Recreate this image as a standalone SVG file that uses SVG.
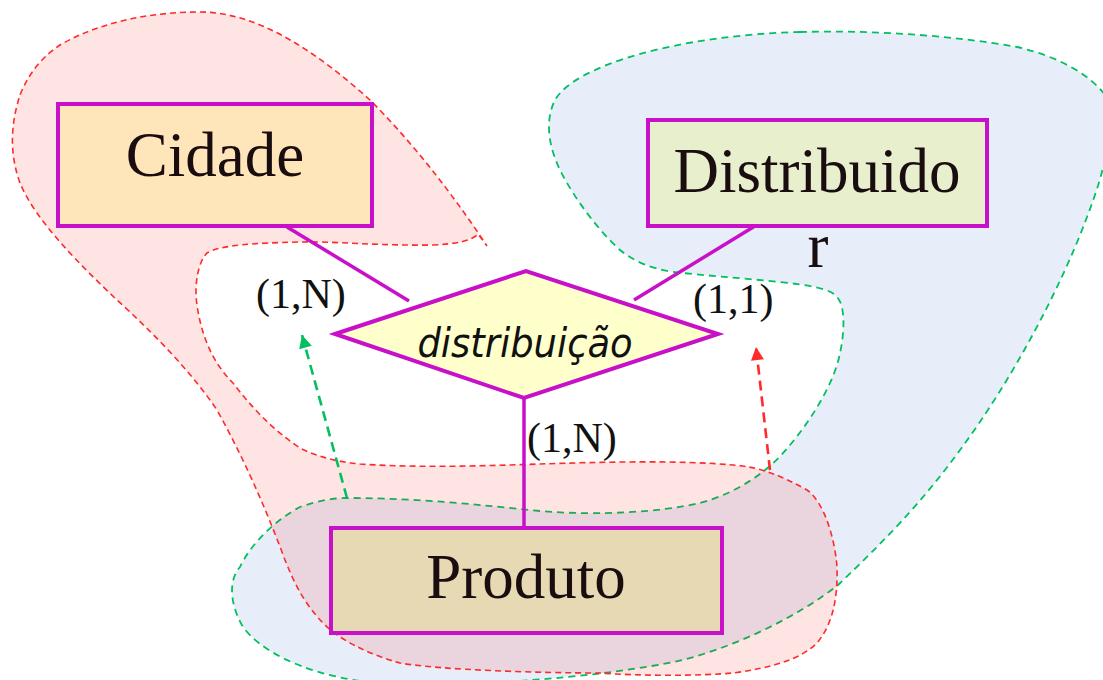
<svg xmlns="http://www.w3.org/2000/svg" width="1103" height="680" viewBox="0 0 1103 680">
  <defs>
    <style>
      .blob-red { fill: rgba(255,0,0,0.105); stroke: #ff2a2a; stroke-width: 1.6; stroke-dasharray: 6 4; }
      .blob-green { fill: rgba(51,102,204,0.115); stroke: #00c060; stroke-width: 1.8; stroke-dasharray: 7 5; }
      .entity { stroke: #c810c8; stroke-width: 4; }
      .rel { fill: #ffffcc; stroke: #c810c8; stroke-width: 4; stroke-linejoin: miter; }
      .link { stroke: #c810c8; stroke-width: 3.5; fill: none; }
      .name { font-family: "Liberation Serif", "Times New Roman", serif; font-size: 63px; fill: #1a0d10; text-anchor: middle; }
      .card { font-family: "Liberation Serif", "Times New Roman", serif; font-size: 42px; fill: #111; }
      .relname { font-family: "DejaVu Sans Condensed", "DejaVu Sans", sans-serif; font-style: italic; font-size: 41px; fill: #111; text-anchor: middle; }
      .dep-green { stroke: #00c060; stroke-width: 2.6; stroke-dasharray: 10 6; fill: none; }
      .dep-red { stroke: #ff2a2a; stroke-width: 2.6; stroke-dasharray: 10 6; fill: none; }
    </style>
    <marker id="head-green" viewBox="0 0 10 10" refX="10" refY="5" markerWidth="15" markerHeight="13" markerUnits="userSpaceOnUse" orient="auto">
      <path d="M0,0 L10,5 L0,10 Z" fill="#00c060"/>
    </marker>
    <marker id="head-red" viewBox="0 0 10 10" refX="10" refY="5" markerWidth="15" markerHeight="13" markerUnits="userSpaceOnUse" orient="auto">
      <path d="M0,0 L10,5 L0,10 Z" fill="#ff2a2a"/>
    </marker>
  </defs>

  <!-- grouping regions -->
  <g id="regions">
    <path id="region-green" class="blob-green" d="M 800,32 C 870,30 950,35 1017,47 C 1060,57 1090,75 1105,95 C 1115,130 1105,170 1087,217 C 1060,290 1010,383 960,450 C 920,505 880,545 838,585 C 800,615 740,645 683,660 C 600,678 450,690 360,681 C 300,672 260,650 243,627 C 230,605 228,580 240,567 C 250,545 275,520 300,507 C 320,500 335,498 347,498 C 420,498 480,505 540,511 C 600,516 660,512 700,503 C 740,492 770,470 790,445 C 815,415 835,380 840,353 C 845,330 845,305 837,297 C 830,288 807,285 780,282 C 740,278 700,275 673,272 C 650,268 635,262 620,250 C 600,232 575,200 560,170 C 548,145 545,120 555,100 C 575,65 680,35 800,32 Z"/>
    <path id="region-red" class="blob-red" d="M 200,12 C 260,12 320,55 370,100 C 410,140 450,190 487,246 L 478,234 C 472,241 455,244 433,245 C 380,246 330,241 300,242 C 255,243 220,245 207,253 C 198,262 194,285 197,305 C 202,340 215,365 233,383 C 250,405 270,428 300,448 C 320,458 340,462 360,464 C 420,468 480,466 540,464 C 600,462 680,460 733,465 C 760,467 780,475 807,490 C 825,503 835,540 837,567 C 838,600 832,625 817,643 C 800,660 770,668 733,673 C 700,676 640,676 600,673 C 540,673 440,670 400,663 C 370,655 340,640 325,625 C 305,605 295,585 285,560 C 270,520 250,470 217,410 C 190,370 150,330 117,300 C 80,265 35,220 20,183 C 8,150 12,120 20,95 C 30,70 45,55 60,45 C 100,22 150,12 200,12 Z"/>
  </g>

  <!-- connectors -->
  <g id="connectors">
    <line class="link" x1="287" y1="227" x2="409" y2="301"/>
    <line class="link" x1="755" y1="226" x2="634" y2="300"/>
    <line class="link" x1="524" y1="398" x2="524" y2="527"/>
    <line class="dep-green" x1="347" y1="498" x2="302" y2="335" marker-end="url(#head-green)"/>
    <line class="dep-red" x1="770" y1="470" x2="756" y2="347" marker-end="url(#head-red)"/>
  </g>

  <g id="cidade">
    <rect class="entity" x="58" y="104" width="314" height="122" fill="#ffe6ba"/>
    <text class="name" x="215" y="176">Cidade</text>
  </g>

  <g id="distribuido">
    <rect class="entity" x="648" y="120" width="339" height="106" fill="#e8efcc"/>
    <text class="name" x="817" y="192">Distribuido</text>
    <text class="name" x="818" y="267">r</text>
  </g>

  <g id="produto">
    <rect class="entity" x="331" y="528" width="391" height="105" fill="#e8d9b5"/>
    <text class="name" x="526" y="598">Produto</text>
  </g>

  <g id="distribuicao">
    <polygon class="rel" points="335,334 526,271 718,334 524,398"/>
    <text class="relname" x="525" y="357">distribuição</text>
  </g>

  <g id="cardinalities">
    <text class="card" x="256" y="308">(1,N)</text>
    <text class="card" x="693" y="313">(1,1)</text>
    <text class="card" x="527" y="452">(1,N)</text>
  </g>
</svg>
